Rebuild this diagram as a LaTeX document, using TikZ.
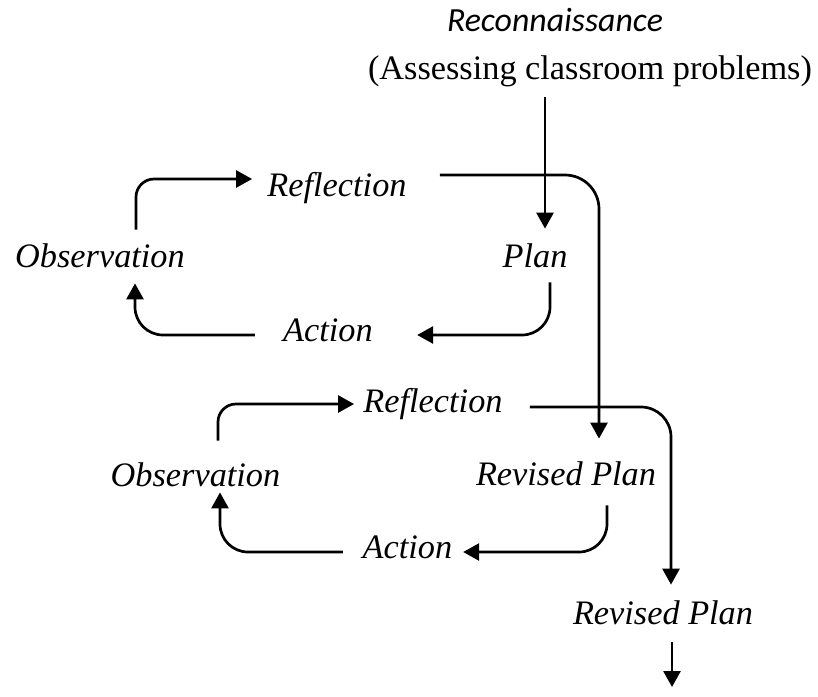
\documentclass[tikz,border=0pt]{standalone}
\usepackage{fontspec}
\setmainfont{Liberation Serif}
\newfontfamily\reconfont{Carlito}
\usetikzlibrary{arrows.meta}
\tikzset{
    stage/.style={font=\fontsize{17.15}{20}\selectfont\itshape, inner sep=0pt,
        text height=11.7pt, text depth=3.8pt},
    flow/.style={-{Triangle[length=8pt,width=8.5pt]}, line width=1.35pt},
}

\begin{document}
\begin{tikzpicture}[x=0.5pt,y=-0.5pt]
        \useasboundingbox (0,0) rectangle (818,696);
        \node[stage,font=\fontsize{16.9}{20}\selectfont\reconfont\itshape] (recon) at (555,24) {Reconnaissance};
        \node[stage,font=\fontsize{17.15}{20}\selectfont] (assess) at (590,72) {(Assessing classroom problems)};
        % first cycle
        \node[stage] (refl1) at (337,189) {Reflection};
        \node[stage] (obs1) at (100,260) {Observation};
        \node[stage] (plan1) at (535,260) {Plan};
        \node[stage] (act1) at (328,334) {Action};
        % second cycle
        \node[stage] (refl2) at (433,405) {Reflection};
        \node[stage] (obs2) at (195.5,479) {Observation};
        \node[stage] (rplan2) at (566,478) {Revised Plan};
        \node[stage] (act2) at (407.5,551) {Action};
        \node[stage] (rplan3) at (663,617) {Revised Plan};
        \coordinate (next) at (672,687);
        \draw[flow] ([shift={(-45,9.5)}]assess.south) -- ([shift={(10,-15.5)}]plan1.north);
        \draw[flow,rounded corners=14pt] ([shift={(15,6.5)}]plan1.south) |- ([shift={(44,1)}]act1.east);
        \draw[flow,rounded corners=14pt] ([shift={(-28,1)}]act1.west) -| ([shift={(35,7.5)}]obs1.south);
        \draw[flow,rounded corners=9pt] ([shift={(36,-14.5)}]obs1.north) |- ([shift={(-15,-10)}]refl1.west);
        \draw[flow,rounded corners=17pt] ([shift={(33,-14)}]refl1.east) -| ([shift={(33,-23.5)}]rplan2.north);
        \draw[flow,rounded corners=14pt] ([shift={(41,11.5)}]rplan2.south) |- ([shift={(10.5,1)}]act2.east);
        \draw[flow,rounded corners=14pt] ([shift={(-19.5,1)}]act2.west) -| ([shift={(24.5,-2.5)}]obs2.south);
        \draw[flow,rounded corners=9pt] ([shift={(22.5,-22.5)}]obs2.north) |- ([shift={(-9,-1)}]refl2.west);
        \draw[flow,rounded corners=15pt] ([shift={(27,2)}]refl2.east) -| ([shift={(8,-16.5)}]rplan3.north);
        \draw[flow] ([shift={(9,9.5)}]rplan3.south) -- (next);
    \end{tikzpicture}
\end{document}
